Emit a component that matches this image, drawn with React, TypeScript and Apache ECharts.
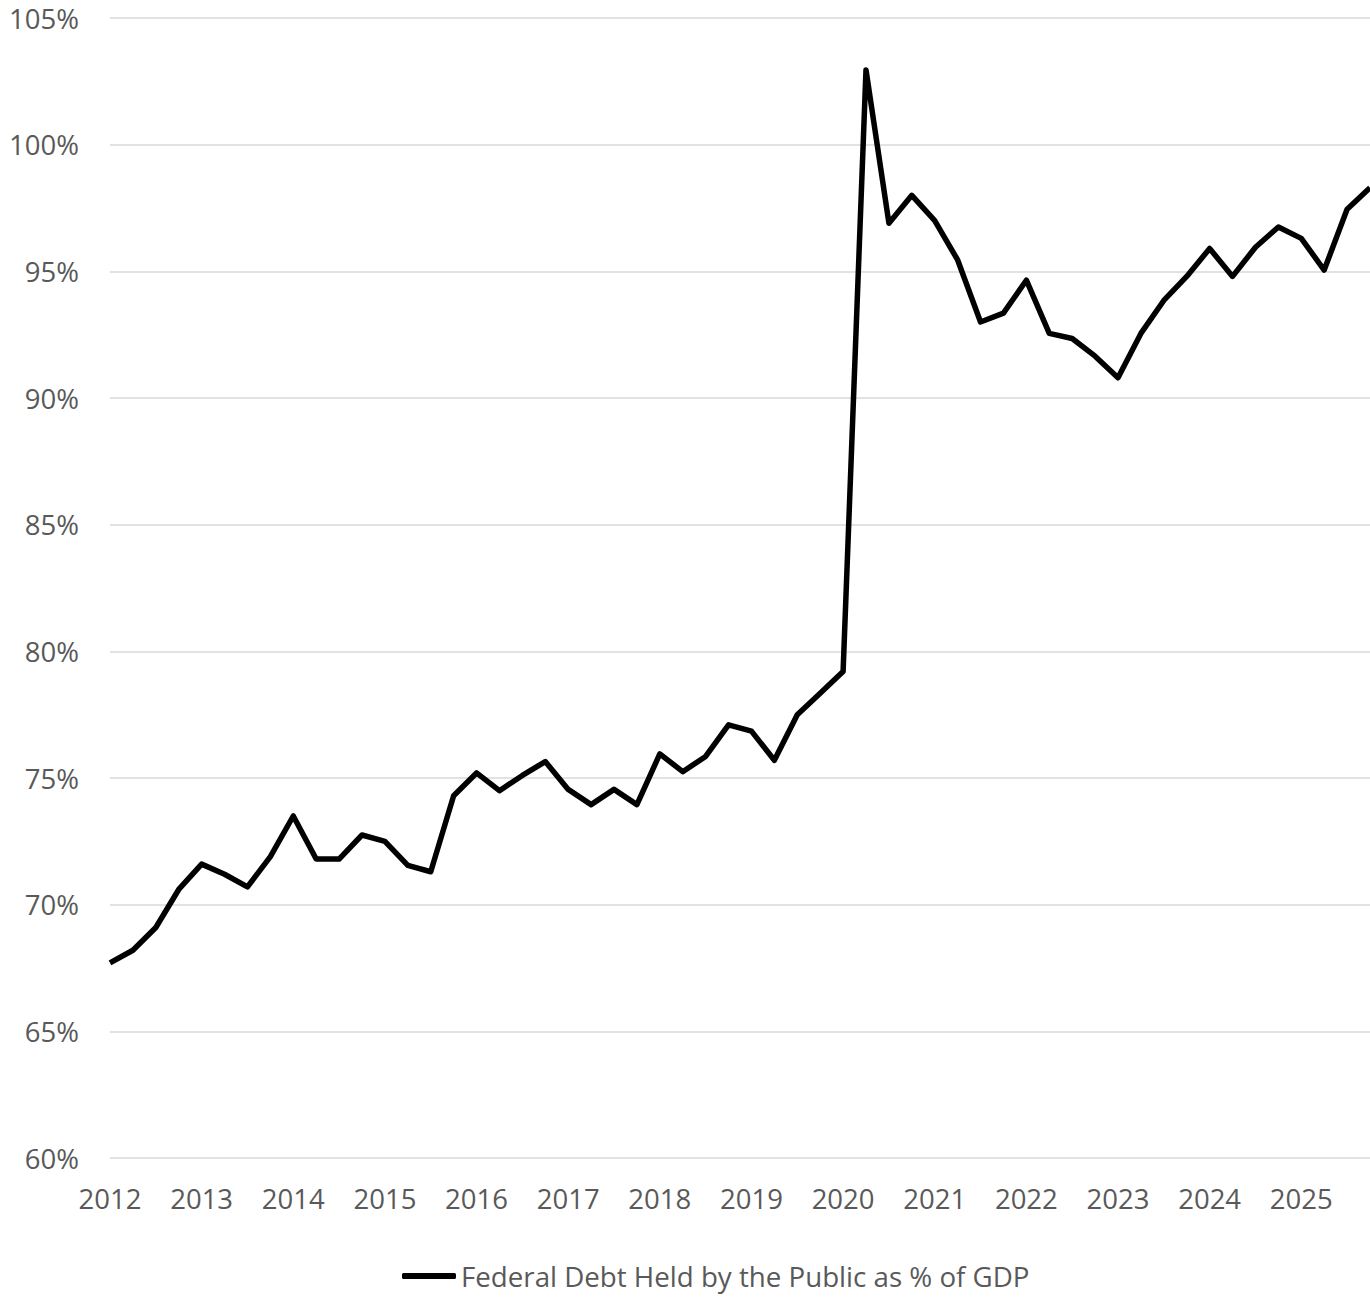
import React, { useEffect, useRef } from "react";
import * as echarts from "echarts";

const quarters: string[] = [];
for (let y = 2012; y <= 2025; y++) {
  for (let q = 1; q <= 4; q++) quarters.push(`${y} Q${q}`);
}

const debtPctGdp: number[] = [
  67.7, 68.2, 69.1, 70.6, 71.6, 71.2, 70.7, 71.9,
  73.5, 71.8, 71.8, 72.75, 72.5, 71.55, 71.3, 74.3,
  75.2, 74.5, 75.1, 75.65, 74.55, 73.95, 74.55, 73.95,
  75.95, 75.25, 75.85, 77.1, 76.85, 75.7, 77.5, 78.35,
  79.2, 102.95, 96.9, 98.0, 97.0, 95.45, 93.0, 93.35,
  94.65, 92.55, 92.35, 91.65, 90.8, 92.55, 93.85, 94.8,
  95.9, 94.8, 95.95, 96.75, 96.3, 95.05, 97.45, 98.3,
];

const seriesName = "Federal Debt Held by the Public as % of GDP";

export default function App() {
  const ref = useRef<HTMLDivElement>(null);
  useEffect(() => {
    if (!ref.current) return;
    const chart = echarts.init(ref.current, undefined, { renderer: "svg" });
    const font = "'Open Sans', sans-serif";
    chart.setOption({
      animation: false,
      backgroundColor: "#ffffff",
      grid: { left: 110, right: 0, top: 18, bottom: 139, containLabel: false },
      legend: {
        show: true,
        left: 402,
        top: 1262,
        padding: 0,
        itemWidth: 54,
        itemHeight: 6,
        textStyle: { fontFamily: font, fontSize: 27.7, color: "#595959" },
        data: [{ name: seriesName, icon: "roundRect" }],
        itemStyle: { color: "#000000" },
      },
      xAxis: {
        type: "category",
        data: quarters,
        boundaryGap: false,
        axisLine: { show: false },
        axisTick: { show: false },
        axisLabel: {
          interval: 3,
          margin: 26,
          fontFamily: font,
          fontSize: 27.5,
          color: "#595959",
          formatter: (v: string) => v.slice(0, 4),
        },
        splitLine: { show: false },
      },
      yAxis: {
        type: "value",
        min: 60,
        max: 105,
        interval: 5,
        axisLine: { show: false },
        axisTick: { show: false },
        axisLabel: {
          margin: 31,
          fontFamily: font,
          fontSize: 27.5,
          color: "#595959",
          formatter: "{value}%",
        },
        splitLine: { lineStyle: { color: "#d9d9d9", width: 1.5 } },
      },
      series: [
        {
          name: seriesName,
          type: "line",
          data: debtPctGdp,
          symbol: "none",
          clip: false,
          lineStyle: { color: "#000000", width: 5.5, join: "round" },
          itemStyle: { color: "#000000" },
        },
      ],
    });
    return () => chart.dispose();
  }, []);
  return (
    <div
      ref={ref}
      style={{ position: "absolute", left: 0, top: 0, width: 1370, height: 1297 }}
    />
  );
}
